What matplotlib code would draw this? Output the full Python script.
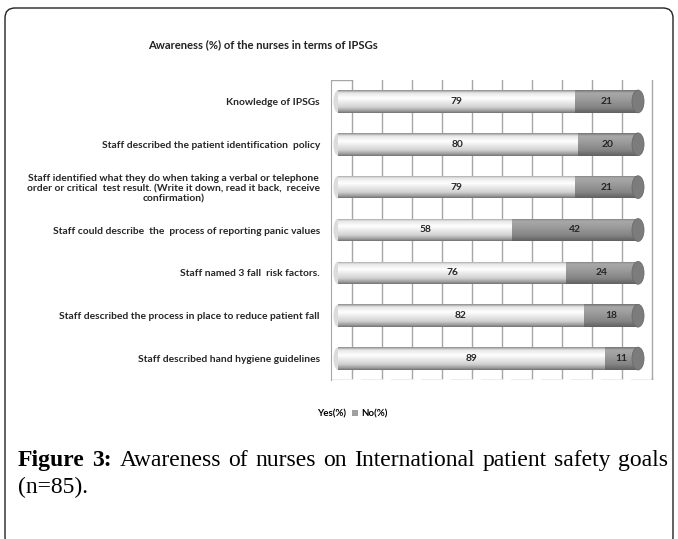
import numpy as np
import matplotlib
matplotlib.use("Agg")
import matplotlib.pyplot as plt
from matplotlib.patches import Patch, Ellipse, FancyBboxPatch
from matplotlib.transforms import IdentityTransform, ScaledTranslation

categories = [
    "Knowledge of IPSGs",
    "Staff described the patient identification  policy",
    "Staff identified what they do when taking a verbal or telephone\n"
    "order or critical  test result. (Write it down, read it back,  receive\n"
    "confirmation)",
    "Staff could describe  the  process of reporting panic values",
    "Staff named 3 fall  risk factors.",
    "Staff described the process in place to reduce patient fall",
    "Staff described hand hygiene guidelines",
]
yes_pct = [79, 80, 79, 58, 76, 82, 89]
no_pct = [21, 20, 21, 42, 24, 18, 11]
series_names = ["Yes(%)", "No(%)"]

W, H = 678, 539
fig = plt.figure(figsize=(W / 100, H / 100), dpi=100)
label_font = "Lato"
fs = 7.4

# rounded outer frame
frame = FancyBboxPatch((5, -8), 668, 539, boxstyle="round,pad=0,rounding_size=10",
                       transform=IdentityTransform(), facecolor="none",
                       edgecolor="#222222", linewidth=1.0)
fig.patches.append(frame)

# axes: 0 -> px 338, 3 px per unit
left_px, right_px, top_px, bot_px = 331, 660, 80, 380
ax = fig.add_axes([left_px / W, 1 - bot_px / H, (right_px - left_px) / W, (bot_px - top_px) / H])
ax.set_xlim((left_px - 338) / 3, (right_px - 338) / 3)
ax.set_ylim(len(categories) - 0.5, -0.5)

y = np.arange(len(categories))
bh = 0.53
ytop, ybot = -0.5, len(categories) - 0.5

# back wall grid (shifted right for 3-D depth)
grid_c = "#a6a6a6"
shift = ax.transData + ScaledTranslation(14 / 100, 0, fig.dpi_scale_trans)
for gx in range(0, 101, 10):
    ax.plot([gx, gx], [ytop, ybot - 0.05], color=grid_c, lw=1, transform=shift, zorder=0)
# side wall corner and floor edge
ax.plot([-7, 0], [ytop, ytop], color=grid_c, lw=1, transform=shift, zorder=0)
ax.plot([-7, 0], [ybot, ybot], color=grid_c, lw=1, transform=shift, zorder=0)
for gx in range(0, 100, 10):
    ax.plot([gx + 3, gx + 10], [ybot, ybot], color=grid_c, lw=1, transform=shift, zorder=0)
ax.plot([100, 100], [ybot - 0.05, ybot], color=grid_c, lw=1, transform=shift, zorder=0)

yes_bars = ax.barh(y, yes_pct, height=bh, color="none", edgecolor="none", zorder=2)
no_bars = ax.barh(y, no_pct, left=yes_pct, height=bh, color="none", edgecolor="none", zorder=2)


def shade(bars, stops):
    n = 64
    t = np.linspace(0, 1, n)
    pos = [s[0] for s in stops]
    cols = np.array([s[1] for s in stops])
    grad = np.stack([np.interp(t, pos, cols[:, k]) for k in range(3)], axis=-1)[:, None, :]
    for r in bars:
        x0, y0 = r.get_x(), r.get_y()
        im = ax.imshow(grad, extent=(x0, x0 + r.get_width(), y0 + r.get_height(), y0),
                       aspect="auto", zorder=2, interpolation="bilinear")
        im.set_clip_path(r)


shade(yes_bars, [(0, (0.55, 0.55, 0.55)), (0.12, (0.90, 0.90, 0.90)), (0.35, (1, 1, 1)),
                 (0.75, (0.82, 0.82, 0.82)), (0.92, (0.60, 0.60, 0.60)), (1, (0.45, 0.45, 0.45))])
shade(no_bars, [(0, (0.45, 0.45, 0.45)), (0.12, (0.66, 0.66, 0.66)), (0.35, (0.62, 0.62, 0.62)),
                (0.75, (0.52, 0.52, 0.52)), (1, (0.38, 0.38, 0.38))])

# cylinder end caps
for r in no_bars:
    ax.add_patch(Ellipse((r.get_x() + r.get_width(), r.get_y() + r.get_height() / 2), 4,
                         r.get_height(), facecolor="#7c7c7c", edgecolor="#6a6a6a",
                         lw=0.6, zorder=3))
for r in yes_bars:
    ax.add_patch(Ellipse((r.get_x(), r.get_y() + r.get_height() / 2), 3,
                         r.get_height(), facecolor="#dcdcdc", edgecolor="none", zorder=1))

for yi, a, b in zip(y, yes_pct, no_pct):
    ax.text(a / 2, yi, str(a), ha="center", va="center", fontsize=fs,
            fontweight="bold", color="#262626", family=label_font, zorder=4)
    ax.text(a + b / 2, yi, str(b), ha="center", va="center", fontsize=fs,
            fontweight="bold", color="#262626", family=label_font, zorder=4)

ax.set_xticks([])
ax.set_yticks(y)
ax.set_yticklabels(categories, fontsize=fs, fontweight="bold", family=label_font,
                   color="#262626", linespacing=1.15)
for lab in ax.get_yticklabels():
    lab.set_multialignment("center")
ax.tick_params(axis="y", length=0, pad=8)
for s in ["top", "right", "bottom"]:
    ax.spines[s].set_visible(False)
ax.spines["left"].set_color(grid_c)
ax.patch.set_alpha(0)

fig.text(263 / W, 1 - 45 / H, "Awareness (%) of the nurses in terms of IPSGs",
         ha="center", va="center", fontsize=8.1, fontweight="bold",
         family=label_font, color="#222222")

handles = [Patch(facecolor="white", edgecolor="none"),
           Patch(facecolor="#a0a0a0", edgecolor="none")]
fig.legend(handles, series_names, loc="center", bbox_to_anchor=(348 / W, 1 - 414 / H),
           ncol=2, frameon=False, handlelength=0.6, handleheight=0.6,
           handletextpad=0.3, columnspacing=0.6,
           prop={"family": label_font, "weight": "bold", "size": 7})

# caption, first line justified between x=18 and x=668
cap_fs = 17
serif = "Liberation Serif"
words = [("Figure", "bold"), ("3:", "bold")] + [
    (w, "normal") for w in "Awareness of nurses on International patient safety goals".split()]
fig.canvas.draw()
r = fig.canvas.get_renderer()
arts = []
for w, wt in words:
    t = fig.text(0, 1 - 466 / H, w, fontsize=cap_fs, fontweight=wt, family=serif,
                 va="baseline", ha="left")
    arts.append(t)
widths = [t.get_window_extent(renderer=r).width for t in arts]
gap = (668 - 18 - sum(widths)) / (len(words) - 1)
xpos = 18
for t, wd in zip(arts, widths):
    t.set_x(xpos / W)
    xpos += wd + gap
fig.text(18 / W, 1 - 493 / H, "(n=85).", fontsize=cap_fs, family=serif,
         va="baseline", ha="left")

fig.savefig("out.png", dpi=100)
